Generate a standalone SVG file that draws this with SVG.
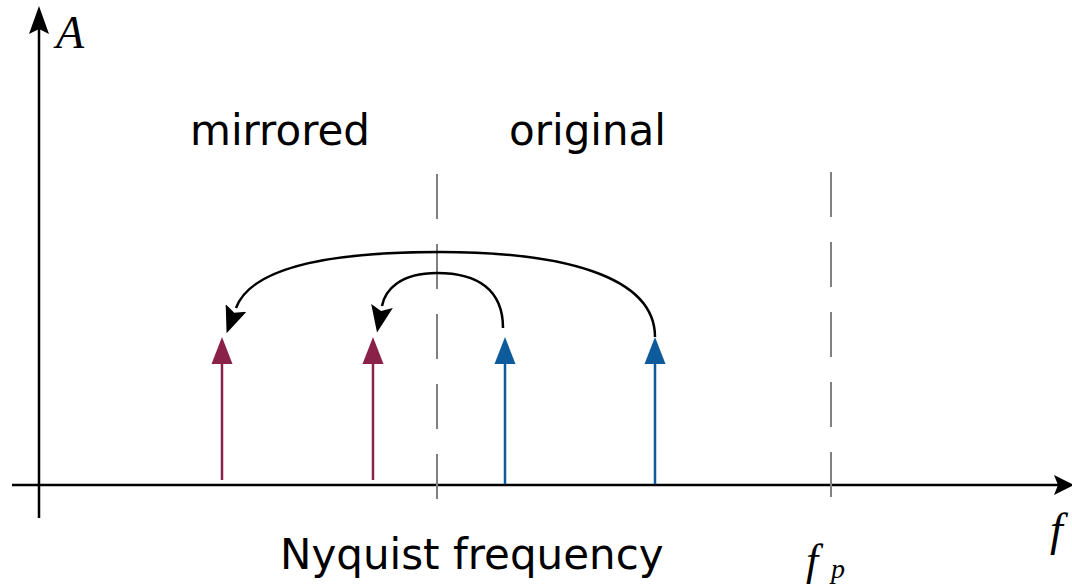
<svg xmlns="http://www.w3.org/2000/svg" width="1072" height="586" viewBox="0 0 1072 586">
<style>
.lbl{font-family:"DejaVu Sans",sans-serif;font-size:42px;fill:#000}
.math{font-family:"Liberation Serif",serif;font-style:italic;fill:#000}
.axis{stroke:#000;stroke-width:2.5;fill:none}
.dash{stroke:#808080;stroke-width:2;stroke-dasharray:45 25;fill:none}
.curve{stroke:#000;stroke-width:2.5;fill:none}
.red{stroke:#8a2148;stroke-width:2.5}
.blue{stroke:#0d5b9b;stroke-width:2.5}
</style>
<defs>
<marker id="ah" markerUnits="userSpaceOnUse" markerWidth="28" markerHeight="22" viewBox="0 0 28 22" refX="0" refY="11" orient="auto">
<path d="M0,0 L27,11 L0,22 L5,11 z" fill="#000"/>
</marker>
</defs>
<rect width="1072" height="586" fill="#fff"/>
<g id="axes">
<line class="axis" x1="39" y1="518" x2="39" y2="28"/>
<path d="M39,6 L49,34 L39,29 L29,34 z" fill="#000"/>
<line class="axis" x1="12" y1="485" x2="1058" y2="485"/>
<path d="M1074,485 L1054,475 L1058,485 L1054,495 z" fill="#000"/>
</g>
<g id="gridlines">
<line class="dash" x1="437" y1="174" x2="437" y2="500"/>
<line class="dash" x1="831" y1="172" x2="831" y2="500"/>
</g>
<g id="mirrored-1">
<line class="red" x1="222" y1="480" x2="222" y2="360"/>
<path d="M222,337 L232.5,364 L211.5,364 z" fill="#8a2148"/>
</g>
<g id="mirrored-2">
<line class="red" x1="373" y1="480" x2="373" y2="360"/>
<path d="M373,337 L383.5,364 L362.5,364 z" fill="#8a2148"/>
</g>
<g id="original-1">
<line class="blue" x1="505" y1="484" x2="505" y2="360"/>
<path d="M505,337 L515.5,364 L494.5,364 z" fill="#0d5b9b"/>
</g>
<g id="original-2">
<line class="blue" x1="655" y1="484" x2="655" y2="360"/>
<path d="M655,337 L665.5,364 L644.5,364 z" fill="#0d5b9b"/>
</g>
<g id="connectors">
<path class="curve" d="M655,337 C655,275 560,252 440,252 C340,252 252,265 236,308" marker-end="url(#ah)"/>
<path class="curve" d="M503,328 C503,290 478,273 437,273 C400,273 385,290 382,306" marker-end="url(#ah)"/>
</g>
<g id="labels">
<text class="math" x="56" y="48" font-size="46">A</text>
<text class="lbl" x="190" y="145">mirrored</text>
<text class="lbl" x="509" y="145">original</text>
<text class="lbl" x="280" y="569">Nyquist frequency</text>
<text class="math" x="806" y="575" font-size="44">f</text>
<text class="math" x="831" y="578" font-size="28">p</text>
<text class="math" x="1050" y="545" font-size="46">f</text>
</g>
</svg>
